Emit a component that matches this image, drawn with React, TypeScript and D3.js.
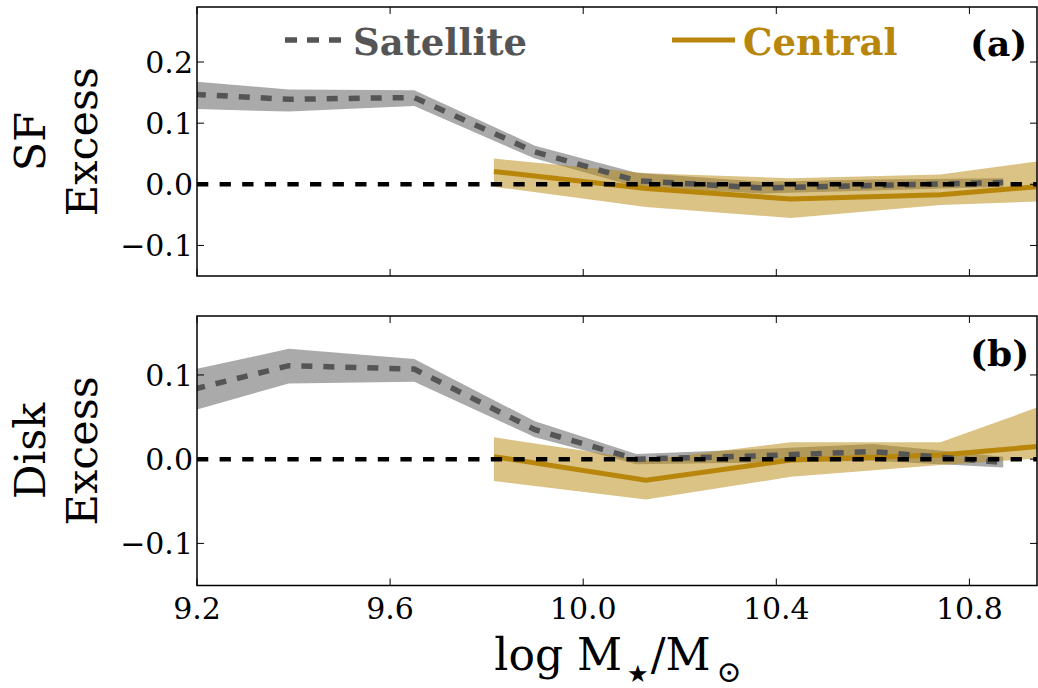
import React from "react";
import * as d3 from "d3";

// ---- data ----
const xTicks = [9.2, 9.6, 10.0, 10.4, 10.8];
const xTickLabels = ["9.2", "9.6", "10.0", "10.4", "10.8"];

const satX = [9.15, 9.39, 9.65, 9.9, 10.11, 10.37, 10.6, 10.87];
const satSF = [0.149, 0.139, 0.142, 0.053, 0.006, -0.006, -0.002, 0.003];
const satSFLo = [0.124, 0.119, 0.128, 0.042, -0.004, -0.015, -0.01, -0.004];
const satSFHi = [0.171, 0.155, 0.154, 0.063, 0.019, 0.004, 0.008, 0.01];

const satDisk = [0.077, 0.111, 0.107, 0.035, 0.0, 0.004, 0.009, -0.004];
const satDiskLo = [0.051, 0.09, 0.092, 0.026, -0.006, -0.004, -0.002, -0.01];
const satDiskHi = [0.101, 0.131, 0.119, 0.045, 0.006, 0.012, 0.018, 0.003];

const cenX = [9.815, 10.13, 10.43, 10.74, 11.05];
const cenSF = [0.021, -0.007, -0.024, -0.017, 0.003];
const cenSFLo = [-0.004, -0.037, -0.055, -0.034, -0.025];
const cenSFHi = [0.042, 0.018, 0.01, 0.016, 0.049];

const cenDisk = [0.003, -0.025, -0.001, 0.005, 0.0205];
const cenDiskLo = [-0.026, -0.048, -0.021, -0.007, 0.005];
const cenDiskHi = [0.026, -0.001, 0.02, 0.02, 0.084];

const sfYTicks = [-0.1, 0.0, 0.1, 0.2];
const sfYTickLabels = ["\u22120.1", "0.0", "0.1", "0.2"];
const diskYTicks = [-0.1, 0.0, 0.1];
const diskYTickLabels = ["\u22120.1", "0.0", "0.1"];

// ---- layout ----
const W = 1038;
const H = 688;
const LEFT = 197;
const RIGHT = 1037;
const FONT = "'DejaVu Serif', serif";
const GOLD = "#B8860B";
const SATC = "#555555";

const x = d3.scaleLinear().domain([9.2, 10.94]).range([LEFT, RIGHT]);

type PanelProps = {
  id: string;
  top: number;
  bottom: number;
  yDomain: [number, number];
  yTicks: number[];
  yTickLabels: string[];
  sat: number[];
  satLo: number[];
  satHi: number[];
  cen: number[];
  cenLo: number[];
  cenHi: number[];
  tag: string;
  tagY: number;
  ylab1: string;
  showX: boolean;
};

function Panel(p: PanelProps) {
  const y = d3.scaleLinear().domain(p.yDomain).range([p.bottom, p.top]);
  const satIdx = satX.map((_, i) => i);
  const cenIdx = cenX.map((_, i) => i);
  const satArea = d3
    .area<number>()
    .x((i) => x(satX[i]))
    .y0((i) => y(p.satLo[i]))
    .y1((i) => y(p.satHi[i]));
  const satLine = d3
    .line<number>()
    .x((i) => x(satX[i]))
    .y((i) => y(p.sat[i]));
  const cenArea = d3
    .area<number>()
    .x((i) => x(cenX[i]))
    .y0((i) => y(p.cenLo[i]))
    .y1((i) => y(p.cenHi[i]));
  const cenLine = d3
    .line<number>()
    .x((i) => x(cenX[i]))
    .y((i) => y(p.cen[i]));
  const midY = (p.top + p.bottom) / 2;
  const TL = 7;
  return (
    <g>
      <defs>
        <clipPath id={p.id}>
          <rect x={LEFT} y={p.top} width={RIGHT - LEFT} height={p.bottom - p.top} />
        </clipPath>
      </defs>
      <g clipPath={`url(#${p.id})`}>
        <path d={satArea(satIdx) || ""} fill="#AAAAAA" stroke="none" />
        <path d={cenArea(cenIdx) || ""} fill={GOLD} fillOpacity={0.5} stroke="none" />
        <path d={cenLine(cenIdx) || ""} fill="none" stroke={GOLD} strokeWidth={5} />
        <path
          d={satLine(satIdx) || ""}
          fill="none"
          stroke={SATC}
          strokeWidth={5.5}
          strokeDasharray="11 11"
        />
        <line
          x1={LEFT}
          x2={RIGHT}
          y1={y(0)}
          y2={y(0)}
          stroke="#000"
          strokeWidth={4.5}
          strokeDasharray="11.3 11.3"
        />
      </g>
      {/* ticks */}
      {xTicks.map((t, i) => (
        <g key={"xt" + i}>
          <line x1={x(t)} x2={x(t)} y1={p.bottom} y2={p.bottom - TL} stroke="#000" strokeWidth={1} />
          <line x1={x(t)} x2={x(t)} y1={p.top} y2={p.top + TL} stroke="#000" strokeWidth={1} />
          {p.showX && (
            <text
              x={x(t)}
              y={619}
              textAnchor="middle"
              fontFamily={FONT}
              fontSize={30}
              fill="#000"
            >
              {xTickLabels[i]}
            </text>
          )}
        </g>
      ))}
      {p.yTicks.map((t, i) => (
        <g key={"yt" + i}>
          <line x1={LEFT} x2={LEFT + TL} y1={y(t)} y2={y(t)} stroke="#000" strokeWidth={1} />
          <line x1={RIGHT} x2={RIGHT - TL} y1={y(t)} y2={y(t)} stroke="#000" strokeWidth={1} />
          <text
            x={193}
            y={y(t)}
            dy="0.36em"
            textAnchor="end"
            fontFamily={FONT}
            fontSize={30}
            fill="#000"
          >
            {p.yTickLabels[i]}
          </text>
        </g>
      ))}
      <rect
        x={LEFT}
        y={p.top}
        width={RIGHT - LEFT}
        height={p.bottom - p.top}
        fill="none"
        stroke="#000"
        strokeWidth={1.5}
      />
      <text
        x={970}
        y={p.tagY}
        fontFamily={FONT}
        fontWeight="bold"
        fontSize={36}
        fill="#000"
      >
        {p.tag}
      </text>
      <text
        transform={`translate(45,${midY}) rotate(-90)`}
        textAnchor="middle"
        fontFamily={FONT}
        fontSize={43}
        fill="#000"
      >
        {p.ylab1}
      </text>
      <text
        transform={`translate(97,${midY}) rotate(-90)`}
        textAnchor="middle"
        fontFamily={FONT}
        fontSize={43}
        fill="#000"
      >
        Excess
      </text>
    </g>
  );
}

export default function App() {
  return (
    <svg
      width={W}
      height={H}
      viewBox={`0 0 ${W} ${H}`}
      style={{ position: "absolute", left: 0, top: 0, background: "#fff" }}
    >
      <rect x={0} y={0} width={W} height={H} fill="#fff" />
      <Panel
        id="clipA"
        top={7}
        bottom={276}
        yDomain={[-0.15, 0.29]}
        yTicks={sfYTicks}
        yTickLabels={sfYTickLabels}
        sat={satSF}
        satLo={satSFLo}
        satHi={satSFHi}
        cen={cenSF}
        cenLo={cenSFLo}
        cenHi={cenSFHi}
        tag="(a)"
        tagY={56}
        ylab1="SF"
        showX={false}
      />
      <Panel
        id="clipB"
        top={316}
        bottom={585.5}
        yDomain={[-0.15, 0.17]}
        yTicks={diskYTicks}
        yTickLabels={diskYTickLabels}
        sat={satDisk}
        satLo={satDiskLo}
        satHi={satDiskHi}
        cen={cenDisk}
        cenLo={cenDiskLo}
        cenHi={cenDiskHi}
        tag="(b)"
        tagY={366}
        ylab1="Disk"
        showX={true}
      />
      {/* legend */}
      <line x1={285} x2={342} y1={40} y2={40} stroke={SATC} strokeWidth={5.5} strokeDasharray="12 10" />
      <text x={353} y={55} fontFamily={FONT} fontWeight="bold" fontSize={37} fill={SATC}>
        Satellite
      </text>
      <line x1={672} x2={735} y1={40} y2={40} stroke={GOLD} strokeWidth={5} />
      <text x={743} y={55} fontFamily={FONT} fontWeight="bold" fontSize={37} fill={GOLD}>
        Central
      </text>
      {/* x label */}
      <text x={618} y={670} textAnchor="middle" fontFamily={FONT} fontSize={44} fill="#000">
        log M
        <tspan dx={5} dy={12} fontSize={24} fontFamily="'DejaVu Sans', sans-serif">
          ★
        </tspan>
        <tspan dx={2} dy={-12}>/M</tspan>
        <tspan dx={6} dy={12} fontSize={30}>
          ⊙
        </tspan>
      </text>
    </svg>
  );
}
